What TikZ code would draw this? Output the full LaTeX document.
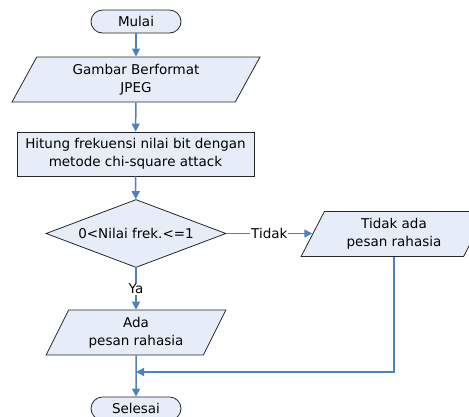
\documentclass[tikz,border=0pt]{standalone}
\usepackage{fontspec}
\setmainfont{DejaVu Sans}
\usepackage{tikz, xcolor}
\usetikzlibrary{shapes.geometric, arrows.meta}

\definecolor{boxfill}{RGB}{231,237,248}
\definecolor{flowblue}{RGB}{79,129,189}

\tikzset{
    base/.style={draw=black!85, fill=boxfill, line width=.8pt, inner sep=0pt, align=center,
        font=\fontsize{13.5}{18}\selectfont},
    terminal/.style={base, rectangle, rounded corners=11.5pt, minimum width=90pt, minimum height=23pt},
    io/.style={base, trapezium, trapezium left angle=63, trapezium right angle=117,
        trapezium stretches=true, minimum height=45pt},
    process/.style={base, rectangle, minimum width=237pt, minimum height=44pt},
    decision/.style={base, diamond, aspect=2.65, minimum width=180pt, minimum height=68pt},
    flow/.style={draw=flowblue, line width=1.5pt, -{Triangle[length=8pt, width=8pt]}},
    lbl/.style={fill=white, inner sep=1pt, font=\fontsize{13.5}{18}\selectfont}
}

\begin{document}
\begin{tikzpicture}[x=1pt, y=-1pt]
    \clip (0, 0) rectangle (469, 416);

    \node [terminal] (mulai) at (136, 21.5) {Mulai};
    \node [io, minimum width=248pt] (gambar) at (136, 79.5) {Gambar Berformat\\JPEG};
    \node [process] (hitung) at (135.5, 154) {Hitung frekuensi nilai bit dengan\\metode chi-square attack};
    \node [decision] (cek) at (136, 233.5) {0<Nilai frek.<=1};
    \node [io, minimum width=186pt] (tidakada) at (394, 234) {Tidak ada\\pesan rahasia};
    \node [io, minimum width=180pt] (ada) at (136, 332.5) {Ada\\pesan rahasia};
    \node [terminal] (selesai) at (136, 408.5) {Selesai};
    \coordinate (gabung) at (136, 372);

    \draw [flow] (mulai) to (gambar);
    \draw [flow] (gambar) to (hitung);
    \draw [flow] (hitung) to (cek);
    \draw [flow] (cek.east) to node [lbl] {Tidak} (cek.east -| tidakada.west);
    \draw [flow] (cek) to node [lbl] {Ya} (ada);
    \draw [flow] (ada) to (selesai);
    \draw [flow] (tidakada.south) |- (gabung);

  \end{tikzpicture}
\end{document}
